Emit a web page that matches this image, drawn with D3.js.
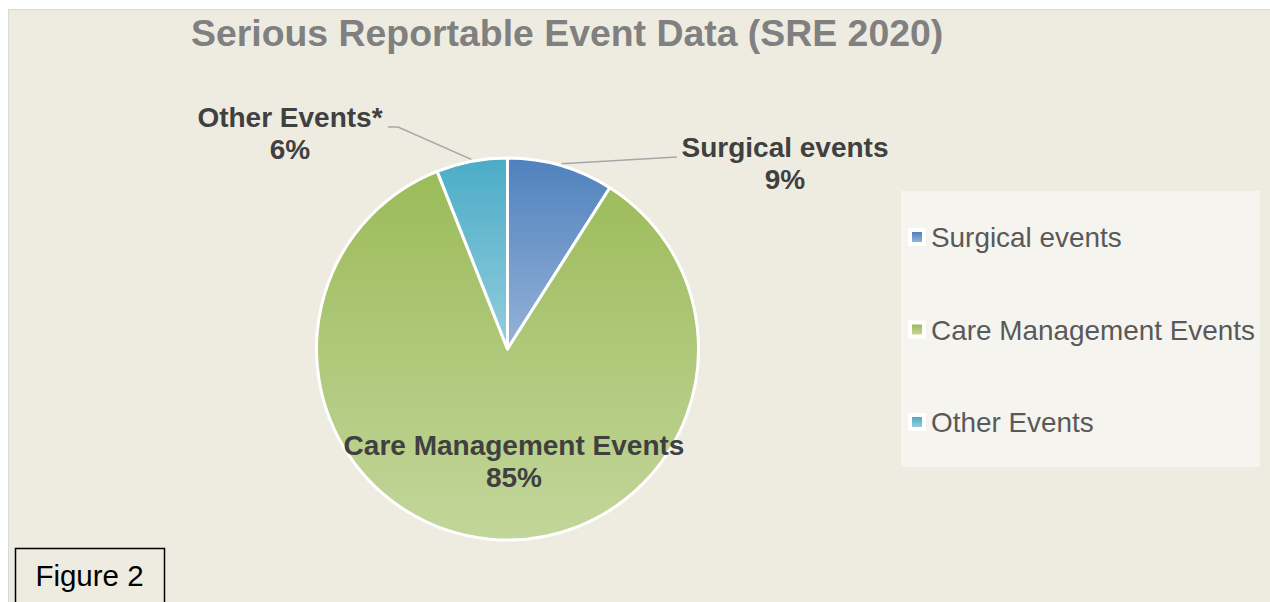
<!DOCTYPE html>
<html>
<head>
<meta charset="utf-8">
<script src="https://cdn.jsdelivr.net/npm/d3@7"></script>
<style>
  body { margin: 0; background: #fff; }
  svg { display: block; font-family: Arial, "Liberation Sans", sans-serif; }
</style>
</head>
<body>
<div class="canvas"></div>
<script>
// data
const categories = ["Surgical events", "Care Management Events", "Other Events"];
const labelNames = ["Surgical events", "Care Management Events", "Other Events*"];
const values = [9, 85, 6];
const topColors = ["#4F81BD", "#9BBB59", "#4BACC6"];
const bottomColors = ["#95B3D7", "#C3D69B", "#93CDDD"];

const width = 1270;
const height = 602;
const cx = 507.5;
const cy = 349;
const radius = 191;

// label anchor points (text centre x, first baseline y) and leader elbows
const labelPos = [
  { x: 785, y: 157, elbow: [677, 157] },
  { x: 514, y: 455, elbow: null },
  { x: 290, y: 127, elbow: [398, 127], end: [388, 127] }
];

const svg = d3
  .select(".canvas")
  .append("svg")
  .attr("width", width)
  .attr("height", height);

const defs = svg.append("defs");
categories.forEach((c, i) => {
  const g = defs
    .append("linearGradient")
    .attr("id", "grad" + i)
    .attr("x1", 0)
    .attr("y1", 0)
    .attr("x2", 0)
    .attr("y2", 1);
  g.append("stop").attr("offset", "0%").attr("stop-color", topColors[i]);
  g.append("stop").attr("offset", "100%").attr("stop-color", bottomColors[i]);
});

//chart area
svg
  .append("rect")
  .attr("x", 8.5)
  .attr("y", 9.5)
  .attr("width", width)
  .attr("height", height)
  .attr("fill", "#EEECE1")
  .attr("stroke", "#D9D9D9")
  .attr("stroke-width", 1);

//title
svg
  .append("text")
  .attr("x", 191)
  .attr("y", 46)
  .attr("fill", "#808080")
  .attr("font-weight", "bold")
  .attr("font-size", "37.4px")
  .text("Serious Reportable Event Data (SRE 2020)");

//pie
const pie = d3.pie().sort(null).value(d => d);
const arcs = pie(values);
const arc = d3.arc().innerRadius(0).outerRadius(radius);
const edge = d3.arc().innerRadius(radius + 2).outerRadius(radius + 2);

const graph = svg.append("g").attr("transform", `translate(${cx}, ${cy})`);

graph
  .selectAll("path.slice")
  .data(arcs)
  .enter()
  .append("path")
  .attr("class", "slice")
  .attr("d", arc)
  .attr("fill", (d, i) => `url(#grad${i})`)
  .attr("stroke", "#fff")
  .attr("stroke-width", 3)
  .attr("stroke-linejoin", "round");

//leader lines
arcs.forEach((d, i) => {
  const p = labelPos[i];
  if (!p.elbow) return;
  const start = edge.centroid(d);
  const pts = [[start[0] + cx, start[1] + cy], p.elbow];
  if (p.end) pts.push(p.end);
  svg
    .append("path")
    .attr("d", d3.line()(pts))
    .attr("fill", "none")
    .attr("stroke", "#A6A6A6")
    .attr("stroke-width", 1.5);
});

//data labels
const total = d3.sum(values);
arcs.forEach((d, i) => {
  const p = labelPos[i];
  const t = svg
    .append("text")
    .attr("text-anchor", "middle")
    .attr("fill", "#404040")
    .attr("font-weight", "bold")
    .attr("font-size", "28px");
  t.append("tspan").attr("x", p.x).attr("y", p.y).text(labelNames[i]);
  t.append("tspan")
    .attr("x", p.x)
    .attr("y", p.y + 32)
    .text(Math.round((d.data / total) * 100) + "%");
});

//legend
const legend = svg.append("g").attr("transform", "translate(901, 191)");
legend
  .append("rect")
  .attr("width", 359)
  .attr("height", 276)
  .attr("fill", "#F5F4EF");

const ly = d3.scalePoint().domain(categories).range([46, 231]);

const items = legend
  .selectAll("g.item")
  .data(categories)
  .enter()
  .append("g")
  .attr("class", "item")
  .attr("transform", d => `translate(0, ${ly(d)})`);

items
  .append("rect")
  .attr("x", 7)
  .attr("y", -9)
  .attr("width", 18)
  .attr("height", 18)
  .attr("fill", "#fff");

items
  .append("rect")
  .attr("x", 11)
  .attr("y", -5)
  .attr("width", 10)
  .attr("height", 10)
  .attr("fill", (d, i) => `url(#grad${i})`);

items
  .append("text")
  .attr("x", 30)
  .attr("y", 10)
  .attr("fill", "#595959")
  .attr("font-size", "27.9px")
  .text(d => d);

//figure caption box
svg
  .append("rect")
  .attr("x", 15.5)
  .attr("y", 548.5)
  .attr("width", 149)
  .attr("height", 70)
  .attr("fill", "#EEECE1")
  .attr("stroke", "#000")
  .attr("stroke-width", 1.5);

svg
  .append("text")
  .attr("x", 89.5)
  .attr("y", 586)
  .attr("text-anchor", "middle")
  .attr("fill", "#000")
  .attr("font-size", "29.5px")
  .text("Figure 2");
</script>
</body>
</html>
